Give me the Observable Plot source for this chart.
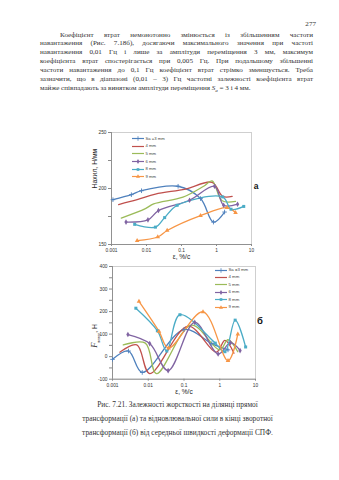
<!DOCTYPE html>
<html><head><meta charset="utf-8">
<script src="https://cdn.jsdelivr.net/npm/d3@7"></script>
<script src="https://cdn.jsdelivr.net/npm/@observablehq/plot@0.6"></script>
<style>
html,body{margin:0;padding:0;background:#fff;}
#page{position:relative;width:339px;height:480px;overflow:hidden;background:#fff;font-family:"Liberation Serif","Times New Roman",serif;color:#333;}
.ln{position:absolute;left:40px;width:273px;font-size:7.1px;line-height:9px;text-align:justify;text-align-last:justify;}
.cap{position:absolute;left:30px;width:295px;font-size:7.4px;line-height:10px;text-align:center;}
.chart{position:absolute;}
.leg{position:absolute;font-family:"Liberation Sans",Arial,sans-serif;color:#444;white-space:nowrap;}
.tag{position:absolute;font-family:"Liberation Sans",Arial,sans-serif;font-weight:bold;color:#111;transform:translate(-50%,-50%);}
</style>
</head><body><div id="page"></div>
<script>
// ---------- text ----------
const pageNumber = "277";
const bodyLines = [
  "Коефіцієнт втрат немонотонно змінюється із збільшенням частоти",
  "навантаження (Рис. 7.18б), досягаючи максимального значення при частоті",
  "навантаження 0,01 Гц і лише за амплітуди переміщення 3 мм, максимум",
  "коефіцієнта втрат спостерігається при 0,005 Гц.  При подальшому збільшенні",
  "частоти навантаження до 0,1 Гц коефіцієнт втрат стрімко зменшується. Треба",
  "зазначити, що в діапазоні (0,01 – 3) Гц частотні залежності коефіцієнта втрат"
];
const lastLine = "майже співпадають за винятком амплітуди переміщення <i>S<sub style='font-size:5px'>a</sub></i> = 3 і 4 мм.";
const captionLines = [
  "Рис. 7.21. Залежності жорсткості на ділянці прямої",
  "трансформації (а) та відновлювальної сили в кінці зворотної",
  "трансформації (б) від середньої швидкості деформації СПФ."
];

// ---------- chart data ----------
const seriesNames = ["Sa =3 mm", "4 mm", "5 mm", "6 mm", "8 mm", "9 mm"];
const seriesColors = ["#4F81BD", "#C0504D", "#9BBB59", "#8064A2", "#4BACC6", "#F79646"];
const seriesSymbols = ["plus", null, null, "diamond", "square", "triangle"];
const xTicks = [0.001, 0.01, 0.1, 1, 10];
const aYTicks = [150, 175, 200, 225, 250];
const bYTicks = [-100, -50, 0, 50, 100, 150, 200, 250, 300, 350, 400];
const aXTitle = "ε, %/с";
const aYTitle = "Нахил, Н/мм";
const bXTitle = "ε, %/с";

// chart (a): slope vs strain rate
const a3mm = [[0.0011,190],[0.0037,194.5],[0.0072,198],[0.08,202],[0.35,191],[0.82,170],[1.7,179]];
const a4mm = [[0.0016,185.7],[0.0054,190],[0.018,195],[0.13,199.5],[0.75,205.5],[1.5,193],[2.8,193]];
const a5mm = [[0.0019,173.6],[0.0093,182],[0.016,186.3],[0.11,192.3],[0.43,202],[0.75,206.7],[1.45,189],[3.5,188.5]];
const a6mm = [[0.0026,170],[0.011,172],[0.022,180.3],[0.17,189.5],[0.88,202],[1.6,185],[4.0,186]];
const a8mm = [[0.0046,168],[0.018,165.5],[0.033,174],[0.075,185],[1.5,192.5],[2.6,181.5],[6.0,184]];
const a9mm = [[0.0054,153.5],[0.021,156.7],[0.039,162.5],[0.35,175.8],[2.0,182.8],[3.5,178.5]];

// chart (б): restoring force vs strain rate
const b3mm = [[0.001,-12],[0.0028,25],[0.0068,-70],[0.1,120],[0.6,58],[1.7,30]];
const b4mm = [[0.0016,20],[0.0048,52],[0.011,-75],[0.13,135],[0.8,20],[1.4,72],[2.5,15]];
const b5mm = [[0.002,52],[0.0083,60],[0.017,-75],[0.16,140],[1.0,30],[1.7,75],[3.2,22]];
const b6mm = [[0.0027,98],[0.011,58],[0.036,-62],[0.2,152],[0.9,12],[2.0,62],[3.7,27]];
const b8mm = [[0.0045,215],[0.018,115],[0.033,25],[0.077,186],[0.75,60],[1.4,22],[2.7,162],[5.3,43]];
const b9mm = [[0.0055,245],[0.02,112],[0.037,38],[0.34,199],[1.7,-18],[3.2,100]];

// ---------- build ----------
const page = document.getElementById("page");
function addDiv(cls, html, style) {
  const d = document.createElement("div");
  d.className = cls; d.innerHTML = html; Object.assign(d.style, style); page.appendChild(d); return d;
}
addDiv("ln", pageNumber, {left:"290px", width:"26px", top:"19.5px", textAlign:"right", textAlignLast:"right"});
bodyLines.forEach((t, i) => {
  addDiv("ln", t, i === 0 ? {left:"60px", width:"253px", top:(30.5 + i*8.9)+"px"} : {top:(30.5 + i*8.9)+"px"});
});
addDiv("ln", lastLine, {top:(30.5 + 6*8.9)+"px", textAlign:"left", textAlignLast:"left"});
captionLines.forEach((t, i) => addDiv("cap", t, {top:(399.5 + i*14.4)+"px"}));

function rowsOf(list) {
  return list.flatMap((pts, k) => pts.map(([x, y]) => ({x, y, s: seriesNames[k], k})));
}
function chart(rows, yDomain, yTicks, yFmt, opts) {
  const marks = [
    Plot.frame({stroke:"#c4c4c4", strokeWidth:0.8}),
    Plot.axisX({ticks:xTicks, tickFormat:d => String(d), tickSize:2, tickPadding:2, label:null, stroke:"#8a8a8a", fill:"#333"}),
    Plot.axisY({ticks:yTicks, tickFormat:yFmt, tickSize:3, tickPadding:2, label:null, stroke:"#8a8a8a", fill:"#333"}),
    Plot.ruleX([xTicks[0]], {stroke:"#8a8a8a", strokeWidth:0.9}),
    Plot.ruleY([yDomain[0]], {stroke:"#8a8a8a", strokeWidth:0.9}),
    Plot.line(rows, {x:"x", y:"y", z:"s", stroke:"s", curve:"catmull-rom", strokeWidth:1.3}),
    Plot.dot(rows.filter(d => seriesSymbols[d.k] === "plus"), {x:"x", y:"y", stroke:"s", symbol:"plus", r:1.6, strokeWidth:0.9}),
    Plot.dot(rows.filter(d => seriesSymbols[d.k] && seriesSymbols[d.k] !== "plus"), {x:"x", y:"y", fill:"s", symbol:d => seriesSymbols[d.k], r:1.7}),
    Plot.text([opts.xTitle], {text:d => d, frameAnchor:"bottom", dy:opts.xTitleDy, fontSize:6.5, fill:"#222"})
  ];
  if (opts.yTitle) marks.push(Plot.text([opts.yTitle], {text:d => d, frameAnchor:"left", dx:opts.yTitleDx, rotate:-90, fontSize:6.8, fill:"#222"}));
  return Plot.plot({
    width:opts.width, height:opts.height,
    marginLeft:opts.ml, marginRight:opts.mr, marginTop:opts.mt, marginBottom:opts.mb,
    style:{fontFamily:"'Liberation Sans', Arial, sans-serif", fontSize:"4.8px", background:"transparent", overflow:"visible"},
    x:{type:"log", domain:[0.001, 10]},
    y:{domain:yDomain},
    color:{domain:seriesNames, range:seriesColors},
    symbol:{domain:["plus","diamond","square","triangle"], range:["plus","diamond","square","triangle"]},
    marks
  });
}

const chartA = chart(rowsOf([a3mm,a4mm,a5mm,a6mm,a8mm,a9mm]), [150, 250], aYTicks, d => d % 50 === 0 ? String(d) : "",
  {width:205, height:137, ml:51, mr:14, mt:7, mb:18, xTitle:aXTitle, xTitleDy:14, yTitle:aYTitle, yTitleDx:-17});
chartA.classList.add("chart"); chartA.style.left = "60px"; chartA.style.top = "125px"; page.appendChild(chartA);

const chartB = chart(rowsOf([b3mm,b4mm,b5mm,b6mm,b8mm,b9mm]), [-100, 400], bYTicks, d => d % 100 === 0 ? String(d) : "",
  {width:205, height:137, ml:52, mr:10, mt:6, mb:18.3, xTitle:bXTitle, xTitleDy:14.5, yTitle:null});
chartB.classList.add("chart"); chartB.style.left = "60px"; chartB.style.top = "260px"; page.appendChild(chartB);

// y title of chart б with subscript
addDiv("tag", "<i style='font-family:Liberation Serif;font-size:8.5px'>F</i><sub style='font-size:3.6px'>повер</sub>, Н",
  {left:"95px", top:"336px", fontWeight:"normal", fontSize:"6.8px", transform:"translate(-50%,-50%) rotate(-90deg)", whiteSpace:"nowrap", color:"#222"});
addDiv("tag", "а", {left:"256px", top:"186px", fontSize:"8.5px"});
addDiv("tag", "б", {left:"260px", top:"320px", fontSize:"9.5px"});

// legends
function legend(x0, y0, step, lineW, fs) {
  seriesNames.forEach((name, i) => {
    const sym = seriesSymbols[i], c = seriesColors[i];
    let mk = "";
    if (sym) {
      const type = {plus:d3.symbolPlus, diamond:d3.symbolDiamond, square:d3.symbolSquare, triangle:d3.symbolTriangle}[sym];
      const p = d3.symbol(type, sym === "plus" ? 8 : 7)();
      mk = sym === "plus"
        ? `<path d="${p}" transform="translate(${lineW/2},2.5)" fill="none" stroke="${c}" stroke-width="0.8"/>`
        : `<path d="${p}" transform="translate(${lineW/2},2.5)" fill="${c}"/>`;
    }
    addDiv("leg", `<svg width="${lineW}" height="5" style="vertical-align:middle"><line x1="0" x2="${lineW}" y1="2.5" y2="2.5" stroke="${c}" stroke-width="1.2"/>${mk}</svg><span style="margin-left:1.5px;vertical-align:middle">${name}</span>`,
      {left:x0+"px", top:(y0 + i*step - 3)+"px", fontSize:fs+"px", lineHeight:"6px"});
  });
}
legend(132, 138.7, 7.6, 12, 4.2);
legend(215, 270, 7.45, 12, 4.3);
</script></body></html>
